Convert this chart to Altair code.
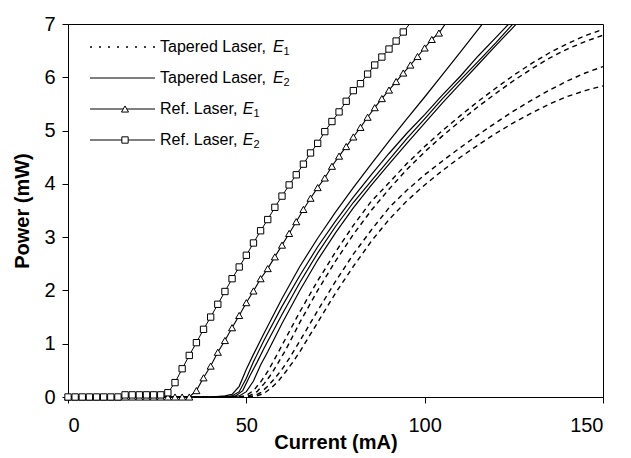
import altair as alt
import pandas as pd

# ---------------- data ----------------
ref_e1_current = list(range(0, 108, 2))
ref_e1_power = [0.0] * 18 + [
    0.12, 0.36, 0.58, 0.84, 1.06, 1.30, 1.53, 1.77, 1.99, 2.22, 2.41, 2.63,
    2.85, 3.07, 3.29, 3.52, 3.73, 3.93, 4.11, 4.33, 4.52, 4.70, 4.88, 5.06,
    5.25, 5.43, 5.60, 5.76, 5.92, 6.08, 6.23, 6.39, 6.55, 6.71, 6.83, 7.02]

ref_e2_current = list(range(0, 98, 2))
ref_e2_power = [0.0] * 8 + [0.04] * 6 + [0.08] + [
    0.27, 0.53, 0.78, 1.02, 1.27, 1.50, 1.74, 1.98, 2.22, 2.44, 2.66, 2.89,
    3.12, 3.33, 3.56, 3.77, 3.98, 4.17, 4.37, 4.58, 4.76, 4.98, 5.17, 5.35,
    5.55, 5.75, 5.88, 6.06, 6.23, 6.38, 6.53, 6.68, 6.85, 7.02]

# Tapered laser, E2 (solid curves)
tap_e2_a_current = [0, 40, 44, 46, 48, 50, 52, 55, 60, 65, 70, 75, 80, 85, 90, 95, 100, 105, 110, 115, 120]
tap_e2_a_power = [0, 0, 0.02, 0.05, 0.2, 0.52, 0.8, 1.2, 1.85, 2.45, 2.98, 3.47, 3.93, 4.37, 4.8, 5.22, 5.63, 6.05, 6.47, 6.9, 7.32]
tap_e2_b_current = [0, 44, 46, 48, 50, 52, 55, 60, 65, 70, 75, 80, 85, 90, 95, 100, 105, 110, 115, 120, 125]
tap_e2_b_power = [0, 0, 0.02, 0.1, 0.35, 0.66, 1.07, 1.7, 2.28, 2.82, 3.3, 3.75, 4.17, 4.57, 4.95, 5.3, 5.67, 6.02, 6.4, 6.75, 7.1]
tap_e2_c_current = [0, 45, 47, 49, 51, 53, 55, 60, 65, 70, 75, 80, 85, 90, 95, 100, 105, 110, 115, 120, 125]
tap_e2_c_power = [0, 0, 0.02, 0.12, 0.4, 0.65, 0.92, 1.55, 2.15, 2.7, 3.2, 3.65, 4.05, 4.45, 4.85, 5.22, 5.6, 5.95, 6.3, 6.65, 7.02]
tap_e2_d_current = [0, 46, 48, 50, 52, 54, 56, 60, 65, 70, 75, 80, 85, 90, 95, 100, 105, 110, 115, 120, 125, 130]
tap_e2_d_power = [0, 0, 0.02, 0.1, 0.3, 0.6, 0.85, 1.38, 2.0, 2.57, 3.08, 3.55, 3.97, 4.37, 4.76, 5.14, 5.52, 5.88, 6.24, 6.6, 6.95, 7.3]

# Tapered laser, E1 (dashed curves)
tap_e1_a_current = [0, 48, 50, 52, 54, 56, 58, 60, 65, 70, 75, 80, 85, 90, 95, 100, 105, 110, 115, 120, 125, 130, 135, 140, 145, 150]
tap_e1_a_power = [0, 0, 0.03, 0.12, 0.28, 0.48, 0.72, 0.97, 1.6, 2.18, 2.72, 3.22, 3.67, 4.02, 4.38, 4.7, 5.0, 5.28, 5.55, 5.8, 6.04, 6.26, 6.46, 6.63, 6.78, 6.9]
tap_e1_b_current = [0, 49, 51, 53, 55, 57, 59, 61, 65, 70, 75, 80, 85, 90, 95, 100, 105, 110, 115, 120, 125, 130, 135, 140, 145, 150]
tap_e1_b_power = [0, 0, 0.03, 0.1, 0.25, 0.43, 0.65, 0.88, 1.4, 2.0, 2.55, 3.05, 3.5, 3.9, 4.27, 4.6, 4.9, 5.18, 5.45, 5.7, 5.94, 6.16, 6.36, 6.53, 6.67, 6.79]
tap_e1_c_current = [0, 50, 52, 54, 56, 58, 60, 62, 65, 70, 75, 80, 85, 90, 95, 100, 105, 110, 115, 120, 125, 130, 135, 140, 145, 150]
tap_e1_c_power = [0, 0, 0.02, 0.08, 0.2, 0.35, 0.52, 0.72, 1.05, 1.62, 2.17, 2.68, 3.13, 3.55, 3.88, 4.17, 4.43, 4.68, 4.92, 5.15, 5.37, 5.57, 5.76, 5.93, 6.08, 6.2]
tap_e1_d_current = [0, 51, 53, 55, 57, 59, 61, 63, 65, 70, 75, 80, 85, 90, 95, 100, 105, 110, 115, 120, 125, 130, 135, 140, 145, 150]
tap_e1_d_power = [0, 0, 0.02, 0.07, 0.17, 0.3, 0.47, 0.65, 0.85, 1.4, 1.95, 2.45, 2.92, 3.33, 3.68, 3.98, 4.25, 4.5, 4.73, 4.95, 5.15, 5.33, 5.5, 5.64, 5.75, 5.84]

x_ticks = [0, 50, 100, 150]
y_ticks = [0, 1, 2, 3, 4, 5, 6, 7]

legend_main = ["Tapered Laser, ", "Tapered Laser, ", "Ref. Laser, ", "Ref. Laser, "]
legend_sub = ["1", "2", "1", "2"]

# ---------------- build tables ----------------
def frame(cur, pw, name):
    return pd.DataFrame({"I": cur, "P": pw, "series": name})

tap_e1 = pd.concat([
    frame(tap_e1_a_current, tap_e1_a_power, "a"),
    frame(tap_e1_b_current, tap_e1_b_power, "b"),
    frame(tap_e1_c_current, tap_e1_c_power, "c"),
    frame(tap_e1_d_current, tap_e1_d_power, "d"),
])
tap_e2 = pd.concat([
    frame(tap_e2_a_current, tap_e2_a_power, "a"),
    frame(tap_e2_b_current, tap_e2_b_power, "b"),
    frame(tap_e2_c_current, tap_e2_c_power, "c"),
    frame(tap_e2_d_current, tap_e2_d_power, "d"),
])
ref1 = frame(ref_e1_current, ref_e1_power, "ref1")
ref2 = frame(ref_e2_current, ref_e2_power, "ref2")

FONT = "Liberation Sans"
xenc = alt.X("I:Q", scale=alt.Scale(domain=[0, 150], nice=False, zero=False),
             axis=alt.Axis(values=x_ticks, title="Current (mA)", labelPadding=12, titlePadding=-3))
yenc = alt.Y("P:Q", scale=alt.Scale(domain=[0, 7], nice=False),
             axis=alt.Axis(values=y_ticks, title="Power (mW)", labelPadding=7, titlePadding=11))

dashed = alt.Chart(tap_e1).mark_line(clip=True, color="black", strokeWidth=1.4, strokeDash=[5, 4]).encode(
    x=xenc, y=yenc, detail="series:N")
solid = alt.Chart(tap_e2).mark_line(clip=True, color="black", strokeWidth=1.2).encode(
    x=xenc, y=yenc, detail="series:N")
ref1_line = alt.Chart(ref1).mark_line(clip=True, color="black", strokeWidth=1.1).encode(x=xenc, y=yenc)
ref2_line = alt.Chart(ref2).mark_line(clip=True, color="black", strokeWidth=1.0).encode(x=xenc, y=yenc)
ref1_pts = alt.Chart(ref1).transform_filter("datum.P <= 6.9").mark_point(
    shape="triangle-up", size=50, filled=True, fill="white", stroke="black", strokeWidth=1, opacity=1
).encode(x=xenc, y=yenc)
ref2_pts = alt.Chart(ref2).transform_filter("datum.P <= 6.9").mark_point(
    shape="square", size=40, filled=True, fill="white", stroke="black", strokeWidth=1, opacity=1
).encode(x=xenc, y=yenc)

# ---------------- manual legend (top-left, inside plot) ----------------
one = pd.DataFrame({"k": [0]})
row_y = [23, 54, 85, 116]   # relative to plot top
line_x0, line_x1, mark_x, text_x = 22, 87, 57, 92
fs = 16
main_w = {"Tapered Laser, ": 7.059 * fs, "Ref. Laser, ": 5.169 * fs}
e_w = 0.667 * fs

legend_layers = []
styles = [("dash", None), ("solid", None), ("solid", "triangle-up"), ("solid", "square")]
for i, (ls, mk) in enumerate(styles):
    y = row_y[i]
    rule_kw = dict(color="black", strokeWidth=1.3 if ls == "dash" else 1.1)
    if ls == "dash":
        rule_kw["strokeDash"] = [2, 7]
    legend_layers.append(alt.Chart(one).mark_rule(**rule_kw).encode(
        x=alt.value(line_x0), x2=alt.value(line_x1), y=alt.value(y)))
    if mk:
        legend_layers.append(alt.Chart(one).mark_point(
            shape=mk, size=50 if mk == "triangle-up" else 40, filled=True, fill="white",
            stroke="black", strokeWidth=1, opacity=1).encode(x=alt.value(mark_x), y=alt.value(y)))
    main = legend_main[i]
    legend_layers.append(alt.Chart(one).mark_text(
        align="left", baseline="middle", font=FONT, fontSize=fs, color="black").encode(
        x=alt.value(text_x), y=alt.value(y), text=alt.value(main)))
    legend_layers.append(alt.Chart(one).mark_text(
        align="left", baseline="middle", font=FONT, fontSize=fs, fontStyle="italic", color="black").encode(
        x=alt.value(text_x + main_w[main]), y=alt.value(y), text=alt.value("E")))
    legend_layers.append(alt.Chart(one).mark_text(
        align="left", baseline="middle", font=FONT, fontSize=11, color="black").encode(
        x=alt.value(text_x + main_w[main] + e_w), y=alt.value(y + 5), text=alt.value(legend_sub[i])))

chart = alt.layer(
    dashed, solid, ref1_line, ref2_line, ref1_pts, ref2_pts, *legend_layers
).properties(
    width=535, height=373,
    padding={"left": 60, "top": 16, "right": 20, "bottom": 60},
    autosize=alt.AutoSizeParams(type="none"),
).configure_view(
    stroke="black", strokeWidth=1
).configure_axis(
    grid=False, domainColor="black", domainWidth=1, tickColor="black", tickSize=6,
    labelColor="black", titleColor="black", labelFont=FONT, titleFont=FONT,
    labelFontSize=20, titleFontSize=20, titleFontWeight="bold"
)

chart.save("out.html", embed_options={"renderer": "svg", "actions": False})
